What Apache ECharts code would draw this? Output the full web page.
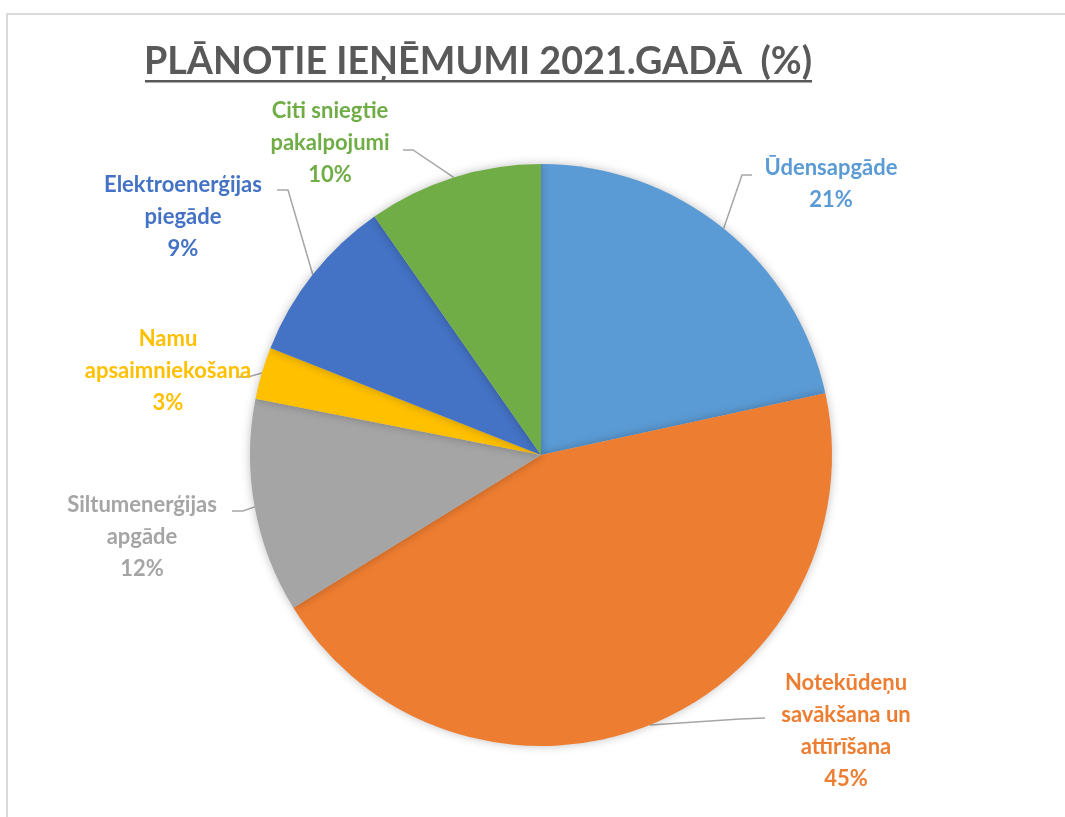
<!DOCTYPE html>
<html>
<head>
<meta charset="utf-8">
<script src="https://cdn.jsdelivr.net/npm/echarts@6/dist/echarts.min.js"></script>
<style>html,body{margin:0;padding:0;background:#fff;}#c{width:1065px;height:817px;}</style>
</head>
<body>
<div id="c"></div>
<script>
const titleText = 'PLĀNOTIE IEŅĒMUMI 2021.GADĀ  (%)';
const categories = ['Ūdensapgāde', 'Notekūdeņu\nsavākšana un\nattīrīšana', 'Siltumenerģijas\napgāde', 'Namu\napsaimniekošana', 'Elektroenerģijas\npiegāde', 'Citi sniegtie\npakalpojumi'];
// slice sizes
const values = [21.6, 44.6, 11.9, 2.9, 9.3, 9.7];
// percentages as printed on the labels
const percentLabels = ['21%', '45%', '12%', '3%', '9%', '10%'];
const colors = ['#5B9BD5', '#ED7D31', '#A5A5A5', '#FFC000', '#4472C4', '#70AD47'];

// label layout (annotation placement only)
const labelCenters = [[831, 184], [846, 731], [142, 537], [168, 371], [183, 217], [330, 143]];
const leaderPoints = [
  [[742, 175], [752, 175]],
  [[740, 719], [765, 718]],
  [[243, 511], [232, 511]],
  [[248, 377], [236, 377]],
  [[288, 190], [277, 190]],
  [[413, 150], [403, 150]]
];

const chart = echarts.init(document.getElementById('c'));
const data = categories.map((n, i) => ({
  name: n, value: values[i],
  itemStyle: { color: colors[i] },
  label: { color: colors[i] }
}));

chart.setOption({
  animation: false,
  title: {
    text: titleText,
    left: 473, top: 38, textAlign: 'center',
    textStyle: { fontFamily: 'Lato', fontWeight: 'bold', fontSize: 37.7, color: '#595959' }
  },
  graphic: [
    { type: 'rect', shape: { x: 7, y: 14, width: 1100, height: 900 }, style: { fill: 'none', stroke: '#d9d9d9', lineWidth: 2 }, silent: true },
    { type: 'rect', shape: { x: 145, y: 80, width: 667, height: 2.5 }, style: { fill: '#595959' }, silent: true }
  ],
  series: [{
    type: 'pie',
    center: [541, 455],
    radius: 291,
    startAngle: 90,
    clockwise: true,
    data: data,
    itemStyle: { shadowBlur: 10, shadowColor: 'rgba(0,0,0,0.25)' },
    label: {
      show: true, position: 'outside',
      formatter: function (p) { return p.name + '\n' + percentLabels[p.dataIndex]; },
      fontFamily: 'Lato', fontWeight: 'bold', fontSize: 22, lineHeight: 32
    },
    labelLine: { show: true, lineStyle: { color: '#a6a6a6', width: 1.5 } },
    labelLayout: function (p) {
      const i = p.dataIndex;
      const pts = p.labelLinePoints;
      const start = pts ? pts[0] : leaderPoints[i][0];
      return {
        x: labelCenters[i][0], y: labelCenters[i][1],
        align: 'center', verticalAlign: 'middle',
        labelLinePoints: [start, leaderPoints[i][0], leaderPoints[i][1]]
      };
    },
    emphasis: { disabled: true }
  }]
});
</script>
</body>
</html>
